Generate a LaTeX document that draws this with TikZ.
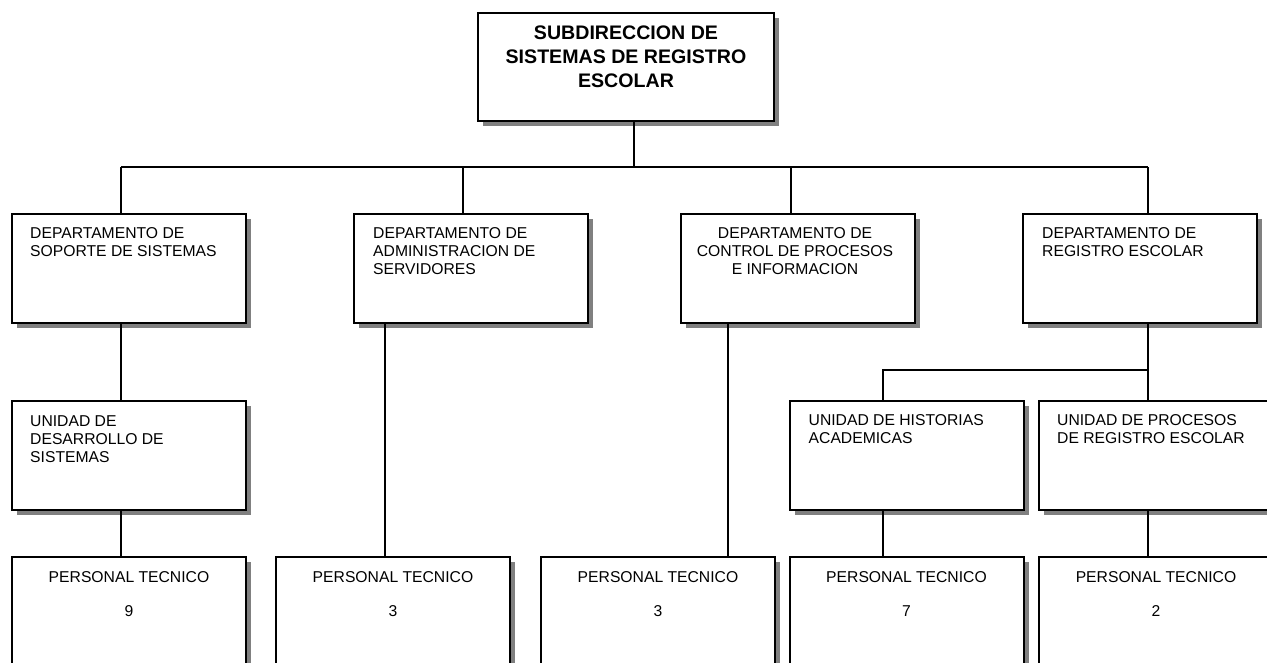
\documentclass[tikz,border=0pt]{standalone}
\usepackage{fontspec}
\setmainfont{Liberation Sans}
\usetikzlibrary{shadows,calc}
\tikzset{
  box/.style={draw=black, line width=2pt, fill=white, rectangle, inner sep=0pt,
    minimum width=234pt, minimum height=109pt,
    drop shadow={shadow xshift=5pt, shadow yshift=-5pt, fill=black!50, opacity=1}},
  topbox/.style={box, minimum width=296pt, minimum height=108pt},
  lbl/.style={inner sep=0pt, align=left, anchor=north west,
    font=\fontsize{15.7pt}{18.3pt}\selectfont},
  clbl/.style={inner sep=0pt, align=center, anchor=north,
    font=\fontsize{15.7pt}{18.3pt}\selectfont},
  ttl/.style={inner sep=0pt, align=center, anchor=north,
    font=\fontsize{19.6pt}{24pt}\selectfont\bfseries},
  conn/.style={draw=black, line width=1.3pt}
}
\begin{document}
\begin{tikzpicture}[x=1pt,y=-1pt]
\useasboundingbox (0,0) rectangle (1267,662);
\clip (0,0) rectangle (1267,662);
% boxes
\node[topbox] (top) at (626,67) {};
\node[box] (d1) at (129,268.5) {};
\node[box] (d2) at (471,268.5) {};
\node[box] (d3) at (798,268.5) {};
\node[box] (d4) at (1140,268.5) {};
\node[box] (u1) at (129,455.5) {};
\node[box] (u2) at (906.5,455.5) {};
\node[box] (u3) at (1156,455.5) {};
\node[box] (p1) at (129,611.5) {};
\node[box] (p2) at (393,611.5) {};
\node[box] (p3) at (658,611.5) {};
\node[box] (p4) at (906.5,611.5) {};
\node[box] (p5) at (1156,611.5) {};
% texts
\node[ttl] (ttop) at ($(top.north)+(0,14)$) {SUBDIRECCION DE\\SISTEMAS DE REGISTRO\\ESCOLAR};
\node[lbl] (td1) at ($(d1.north west)+(19,14)$) {DEPARTAMENTO DE\\SOPORTE DE SISTEMAS};
\node[lbl] (td2) at ($(d2.north west)+(20,14)$) {DEPARTAMENTO DE\\ADMINISTRACION DE\\SERVIDORES};
\node[clbl] (td3) at ($(d3.north)+(-3,14)$) {DEPARTAMENTO DE\\CONTROL DE PROCESOS\\E INFORMACION};
\node[lbl] (td4) at ($(d4.north west)+(20,14)$) {DEPARTAMENTO DE\\REGISTRO ESCOLAR};
\node[lbl] (tu1) at ($(u1.north west)+(19,15)$) {UNIDAD DE\\DESARROLLO DE\\SISTEMAS};
\node[lbl] (tu2) at ($(u2.north west)+(20,14)$) {UNIDAD DE HISTORIAS\\ACADEMICAS};
\node[lbl] (tu3) at ($(u3.north west)+(19,14)$) {UNIDAD DE PROCESOS\\DE REGISTRO ESCOLAR};
\node[clbl] (tp1) at ($(p1.north)+(0,15)$) {PERSONAL TECNICO\\[16pt]9};
\node[clbl] (tp2) at ($(p2.north)+(0,15)$) {PERSONAL TECNICO\\[16pt]3};
\node[clbl] (tp3) at ($(p3.north)+(0,15)$) {PERSONAL TECNICO\\[16pt]3};
\node[clbl] (tp4) at ($(p4.north)+(0,15)$) {PERSONAL TECNICO\\[16pt]7};
\node[clbl] (tp5) at ($(p5.north)+(0,15)$) {PERSONAL TECNICO\\[16pt]2};
% connector coordinates
\coordinate (j0) at (634,167);
\coordinate (c1) at (121,167);
\coordinate (c2) at (463,167);
\coordinate (c3) at (791,167);
\coordinate (c4) at (1148,167);
\coordinate (c5) at (385,167);
\coordinate (c6) at (728,167);
\coordinate (c7) at (883,370);
\coordinate (c8) at (1148,370);
% connectors
\draw[conn] (j0 |- top.south) -- (j0);
\draw[conn] (c1) -- (c4);
\draw[conn] (c1) -- (c1 |- d1.north);
\draw[conn] (c2) -- (c2 |- d2.north);
\draw[conn] (c3) -- (c3 |- d3.north);
\draw[conn] (c4) -- (c4 |- d4.north);
\draw[conn] (c1 |- d1.south) -- (c1 |- u1.north);
\draw[conn] (c1 |- u1.south) -- (c1 |- p1.north);
\draw[conn] (c5 |- d2.south) -- (c5 |- p2.north);
\draw[conn] (c6 |- d3.south) -- (c6 |- p3.north);
\draw[conn] (c4 |- d4.south) -- (c8) -- (c8 |- u3.north);
\draw[conn] (c8) -- (c7) -- (c7 |- u2.north);
\draw[conn] (c7 |- u2.south) -- (c7 |- p4.north);
\draw[conn] (c8 |- u3.south) -- (c8 |- p5.north);
\end{tikzpicture}
\end{document}
